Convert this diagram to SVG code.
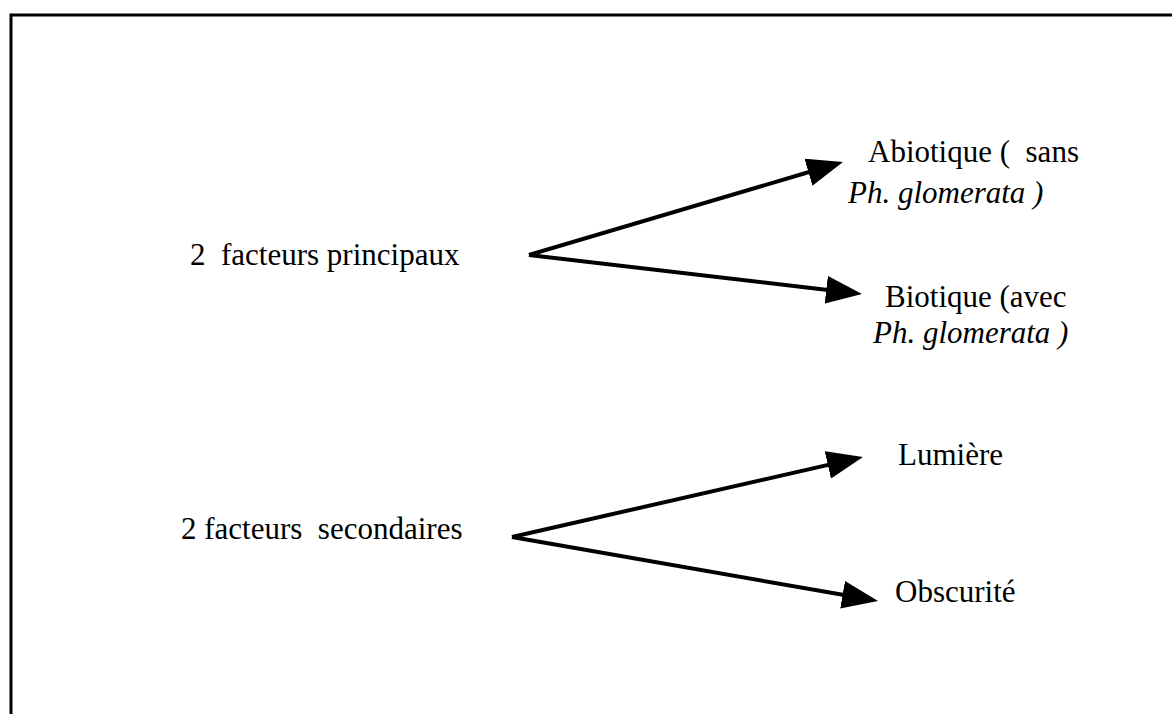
<svg xmlns="http://www.w3.org/2000/svg" width="1172" height="714" viewBox="0 0 1172 714">
  <style>
    text { font-family: "Liberation Serif", "Times New Roman", serif; font-size: 31px; fill: #000; white-space: pre; }
    .it { font-style: italic; }
    .conn { stroke: #000; stroke-width: 4; fill: none; marker-end: url(#ah); }
    .frame { stroke: #000; stroke-width: 3; fill: none; }
  </style>
  <defs>
    <marker id="ah" viewBox="0 -14 36 28" refX="6" refY="0" markerWidth="36" markerHeight="28" markerUnits="userSpaceOnUse" orient="auto">
      <path d="M0,-14 L36,0 L0,14 Z" fill="#000"/>
    </marker>
  </defs>
  <rect width="1172" height="714" fill="#fff"/>
  <path class="frame" d="M11,714 V15 H1172"/>

  <g id="connectors">
    <line class="conn" x1="529" y1="255" x2="814.2" y2="170.5"/>
    <line class="conn" x1="529" y1="255" x2="832.2" y2="290.5"/>
    <line class="conn" x1="512" y1="537" x2="833.7" y2="463.6"/>
    <line class="conn" x1="512" y1="537" x2="848.5" y2="595.8"/>
  </g>

  <g id="principaux"><text x="190" y="265">2  facteurs principaux</text></g>
  <g id="secondaires"><text x="181" y="539">2 facteurs  secondaires</text></g>
  <g id="abiotique">
    <text x="868" y="162">Abiotique (  sans</text>
    <text class="it" x="848" y="203">Ph. glomerata )</text>
  </g>
  <g id="biotique">
    <text x="885" y="307">Biotique (avec</text>
    <text class="it" x="873" y="343">Ph. glomerata )</text>
  </g>
  <g id="lumiere"><text x="898" y="465">Lumière</text></g>
  <g id="obscurite"><text x="895" y="602">Obscurité</text></g>
</svg>
